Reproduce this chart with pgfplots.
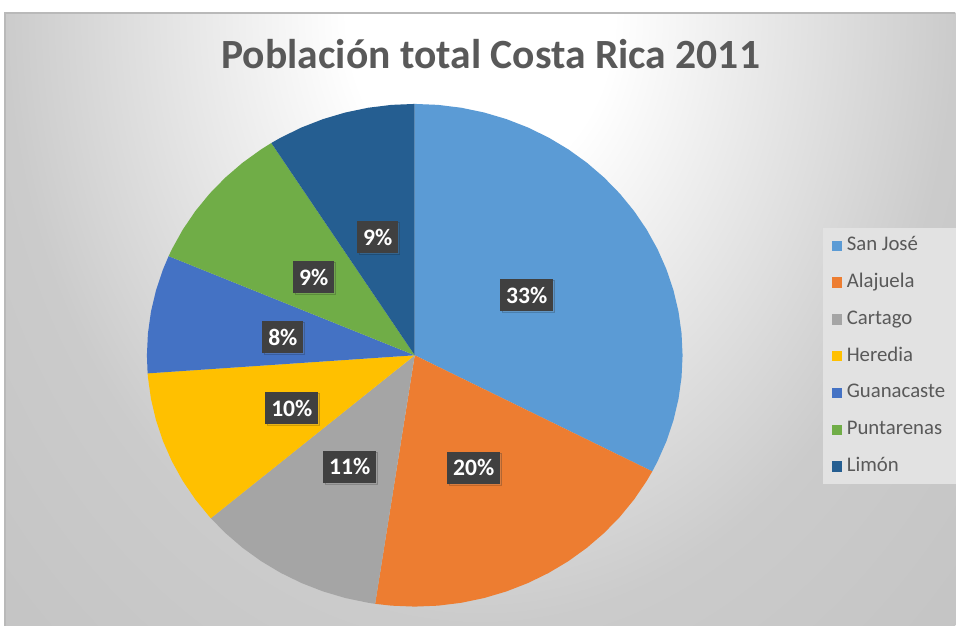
\documentclass[border=0pt]{standalone}
\usepackage{pgfplots}
\pgfplotsset{compat=1.18}
\usepackage{pgfplotstable}
\usepackage{fontspec}
\setmainfont{Carlito}
\usetikzlibrary{shadows}

\definecolor{cSJ}{HTML}{5B9BD5}
\definecolor{cAL}{HTML}{ED7D31}
\definecolor{cCA}{HTML}{A5A5A5}
\definecolor{cHE}{HTML}{FFC000}
\definecolor{cGU}{HTML}{4472C4}
\definecolor{cPU}{HTML}{70AD47}
\definecolor{cLI}{HTML}{255E91}
\definecolor{txt}{HTML}{595959}
\definecolor{lbl}{HTML}{404040}
\definecolor{bgout}{HTML}{CBCBCB}
\definecolor{bgcorner}{HTML}{C4C4C4}
\definecolor{legbg}{HTML}{E2E2E2}

\pgfdeclareradialshading{bgshade}{\pgfpoint{0bp}{0bp}}{color(0bp)=(white); color(7bp)=(white); color(25bp)=(bgout); color(36bp)=(bgcorner); color(50bp)=(bgcorner)}

\pgfplotsset{/pgfplots/table/pt/.style={x expr={415+268*\thisrow{r}*cos(\thisrow{a})}, y expr={270.5+251.5*\thisrow{r}*sin(\thisrow{a})}}}

% Census 2011 population: San Jose 1404242, Alajuela 848146, Cartago 490903,
% Heredia 433677, Guanacaste 326953, Puntarenas 410929, Limon 386862
% Slice boundaries (degrees, clockwise from 90): share x 360
\pgfplotstableread[row sep=\\]{a r\\ 0 0\\ 90 1\\ 85 1\\ 80 1\\ 75 1\\ 70 1\\ 65 1\\ 60 1\\ 55 1\\ 50 1\\ 45 1\\ 40 1\\ 35 1\\ 30 1\\ 25 1\\ 20 1\\ 15 1\\ 10 1\\ 5 1\\ 0 1\\ -5 1\\ -10 1\\ -15 1\\ -20 1\\ -25 1\\ -27.52 1\\}\sj
\pgfplotstableread[row sep=\\]{a r\\ 0 0\\ -27.52 1\\ -30 1\\ -35 1\\ -40 1\\ -45 1\\ -50 1\\ -55 1\\ -60 1\\ -65 1\\ -70 1\\ -75 1\\ -80 1\\ -85 1\\ -90 1\\ -95 1\\ -98.50 1\\}\al
\pgfplotstableread[row sep=\\]{a r\\ 0 0\\ -98.50 1\\ -100 1\\ -105 1\\ -110 1\\ -115 1\\ -120 1\\ -125 1\\ -130 1\\ -135 1\\ -139.58 1\\}\ca
\pgfplotstableread[row sep=\\]{a r\\ 0 0\\ -139.58 1\\ -140 1\\ -145 1\\ -150 1\\ -155 1\\ -160 1\\ -165 1\\ -170 1\\ -175 1\\ -175.87 1\\}\he
\pgfplotstableread[row sep=\\]{a r\\ 0 0\\ -175.87 1\\ -180 1\\ -185 1\\ -190 1\\ -195 1\\ -200 1\\ -203.23 1\\}\gu
\pgfplotstableread[row sep=\\]{a r\\ 0 0\\ -203.23 1\\ -205 1\\ -210 1\\ -215 1\\ -220 1\\ -225 1\\ -230 1\\ -235 1\\ -237.62 1\\}\pu
\pgfplotstableread[row sep=\\]{a r\\ 0 0\\ -237.62 1\\ -240 1\\ -245 1\\ -250 1\\ -255 1\\ -260 1\\ -265 1\\ -270 1\\}\li
\pgfplotstableread[row sep=\\]{x y l\\ 527 331 33\\ 474 158 20\\ 350 159 11\\ 292 218 10\\ 283 289 8\\ 314 349 9\\ 378 389 9\\}\labels

\begin{document}
\begin{tikzpicture}
\begin{axis}[
  x=0.5bp, y=0.5bp,
  xmin=0, xmax=956, ymin=0, ymax=626,
  enlargelimits=false,
  hide axis, clip=false,
  title={Población total Costa Rica 2011},
  title style={at={(axis description cs:0.5136,0.8706)}, anchor=base, yshift=0pt,
    font=\fontsize{20.8bp}{24bp}\bfseries\selectfont, text=txt, inner sep=0pt},
  pie/.style={draw=none},
  legend image code/.code={\fill[#1] (0bp,-2.6bp) rectangle (5.2bp,2.6bp);},
  legend cell align=left,
  legend style={at={(0.8608,0.6358)}, anchor=north west, draw=none, fill=legbg,
    font=\fontsize{10.4bp}{12bp}\selectfont, text=txt,
    inner xsep=4.5bp, inner ysep=3.5bp, row sep=7.8bp,
    nodes={inner sep=0.8bp, text height=7bp, text depth=2bp},
    /tikz/every odd column/.append style={column sep=1.5bp}},
]
\path[fill=white] (axis cs:0,0) rectangle (axis cs:956,626);
\begin{scope}
\clip (axis cs:5,0) rectangle (axis cs:956,613);
\shade[shading=bgshade] (axis cs:5,0) rectangle (axis cs:956,1226);
\end{scope}
\draw[gray!55, line width=0.6bp] (axis cs:5,0) -- (axis cs:5,613) -- (axis cs:956,613);

\addplot[pie, fill=cSJ] table[pt] {\sj} -- cycle;
\addlegendentry{San José}
\addplot[pie, fill=cAL] table[pt] {\al} -- cycle;
\addlegendentry{Alajuela}
\addplot[pie, fill=cCA] table[pt] {\ca} -- cycle;
\addlegendentry{Cartago}
\addplot[pie, fill=cHE] table[pt] {\he} -- cycle;
\addlegendentry{Heredia}
\addplot[pie, fill=cGU] table[pt] {\gu} -- cycle;
\addlegendentry{Guanacaste}
\addplot[pie, fill=cPU] table[pt] {\pu} -- cycle;
\addlegendentry{Puntarenas}
\addplot[pie, fill=cLI] table[pt] {\li} -- cycle;
\addlegendentry{Limón}

\addplot[forget plot, only marks, mark=none, point meta=explicit symbolic,
  nodes near coords={\pgfplotspointmeta\%},
  nodes near coords style={anchor=center, fill=lbl, text=white,
    font=\fontsize{11.8bp}{13bp}\bfseries\selectfont,
    inner xsep=2.9bp, inner ysep=0pt, minimum height=16bp, text height=8.3bp, text depth=0pt,
    drop shadow={shadow xshift=0.8bp, shadow yshift=-0.8bp, opacity=0.18}}]
  table[x=x, y=y, meta=l] {\labels};
\end{axis}
\end{tikzpicture}
\end{document}
